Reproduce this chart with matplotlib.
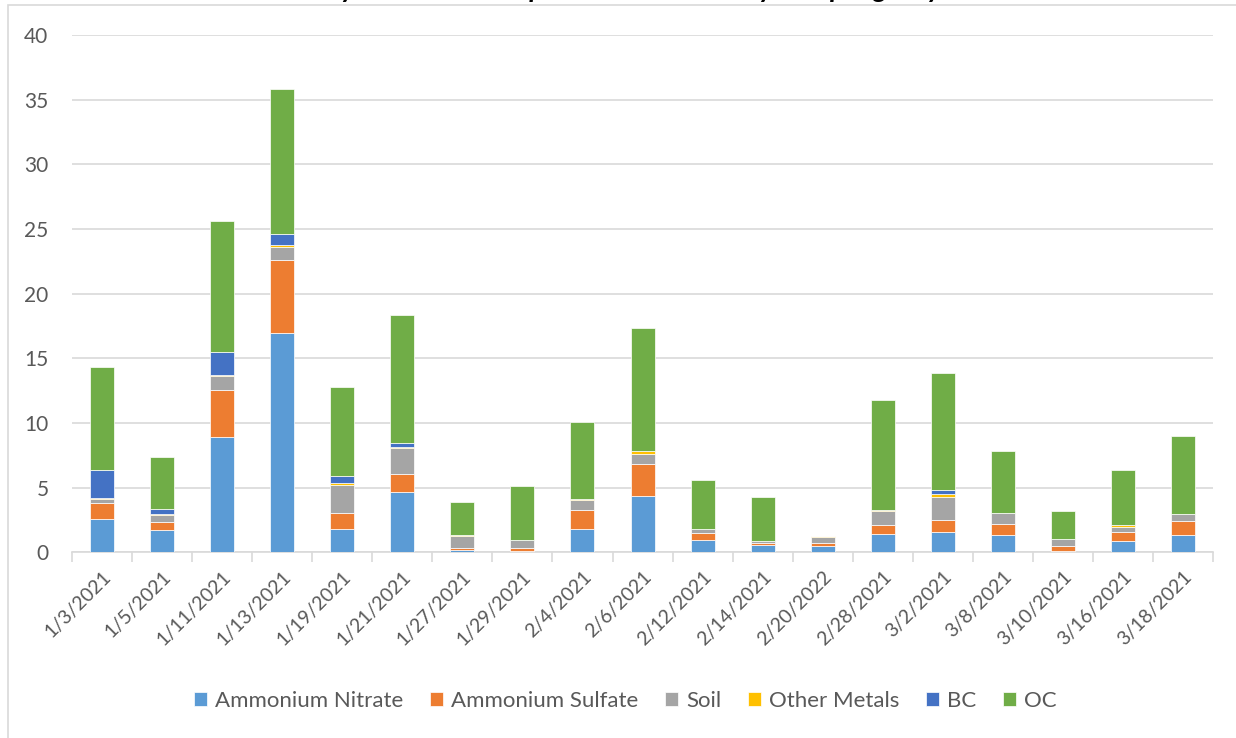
import numpy as np
import matplotlib
matplotlib.use("Agg")
import matplotlib.pyplot as plt
from matplotlib.patches import Rectangle

plt.rcParams['font.family'] = ['Lato', 'DejaVu Sans']

dates = ["1/3/2021", "1/5/2021", "1/11/2021", "1/13/2021", "1/19/2021", "1/21/2021",
         "1/27/2021", "1/29/2021", "2/4/2021", "2/6/2021", "2/12/2021", "2/14/2021",
         "2/20/2022", "2/28/2021", "3/2/2021", "3/8/2021", "3/10/2021", "3/16/2021",
         "3/18/2021"]

# values (ug/m3)
amm_nitrate = [2.55, 1.75, 8.92, 16.93, 1.78, 4.69, 0.18, 0.10, 1.83, 4.38,
               0.93, 0.57, 0.46, 1.44, 1.60, 1.34, 0.10, 0.85, 1.37]
amm_sulfate = [1.24, 0.60, 3.66, 5.70, 1.26, 1.34, 0.16, 0.24, 1.42, 2.48,
               0.56, 0.15, 0.24, 0.67, 0.90, 0.82, 0.42, 0.75, 1.05]
soil = [0.36, 0.54, 1.02, 1.00, 2.19, 2.01, 0.90, 0.59, 0.82, 0.77,
        0.29, 0.13, 0.49, 1.11, 1.78, 0.88, 0.51, 0.38, 0.52]
other_metals = [0.05, 0.07, 0.09, 0.11, 0.13, 0.10, 0.07, 0.02, 0.05, 0.18,
                0.02, 0.02, 0.05, 0.02, 0.20, 0.02, 0.02, 0.13, 0.02]
bc = [2.20, 0.42, 1.77, 0.90, 0.57, 0.29, 0.0, 0.0, 0.0, 0.0,
      0.0, 0.0, 0.0, 0.0, 0.31, 0.0, 0.0, 0.0, 0.0]
oc = [7.93, 3.99, 10.18, 11.16, 6.85, 9.92, 2.56, 4.20, 5.98, 9.54,
      3.76, 3.40, 0.02, 8.51, 9.05, 4.77, 2.14, 4.26, 6.06]

series = [("Ammonium Nitrate", amm_nitrate, "#5B9BD5"),
          ("Ammonium Sulfate", amm_sulfate, "#ED7D31"),
          ("Soil", soil, "#A5A5A5"),
          ("Other Metals", other_metals, "#FFC000"),
          ("BC", bc, "#4472C4"),
          ("OC", oc, "#70AD47")]

fig = plt.figure(figsize=(12.36, 7.38), dpi=100)
ax = fig.add_axes([0.0583, 0.2516, 0.9231, 0.701])

x = np.arange(len(dates))
bottom = np.zeros(len(dates))
for name, vals, col in series:
    vals = np.array(vals)
    ax.bar(x, vals, 0.4, bottom=bottom, color=col, label=name,
           edgecolor="white", linewidth=0.5, zorder=3)
    bottom += vals

ax.set_xlim(-0.5, len(dates) - 0.5)
ax.set_ylim(0, 40)
ax.set_yticks(np.arange(0, 41, 5))
ax.grid(axis="y", color="#D9D9D9", linewidth=1.2, zorder=0)
for s in ["top", "right", "left"]:
    ax.spines[s].set_visible(False)
ax.spines["bottom"].set_color("#D9D9D9")
ax.spines["bottom"].set_linewidth(1.2)

ax.set_xticks(x)
ax.set_xticklabels(dates, rotation=45, ha="right", rotation_mode="anchor")
ax.set_xticks(np.arange(-0.5, len(dates)), minor=True)
ax.tick_params(axis="x", which="major", length=0, pad=11, labelsize=14, labelcolor="#595959")
ax.tick_params(axis="x", which="minor", length=7, width=1.2, color="#D9D9D9")
ax.tick_params(axis="y", length=0, pad=17, labelsize=15, labelcolor="#595959")

fig.legend(loc="center", bbox_to_anchor=(0.506, 0.05), ncol=6, frameon=False,
           fontsize=16, handlelength=0.6, handleheight=0.6, handletextpad=0.35,
           columnspacing=1.2, labelcolor="#595959")

# outer chart border
fig.patches.append(Rectangle((8 / 1236, -0.01), 1.0, 1.0 - 5 / 738 + 0.01,
                             transform=fig.transFigure, fill=False,
                             edgecolor="#D9D9D9", linewidth=1.2))

# title is cut off at the top edge in the source
fig.text(0.5, 1.0 + 3 / 738, "Daily Chemical Composition of PM2.5 by Sampling Day",
         ha="center", va="baseline", fontsize=20, fontweight="bold", style="italic")

fig.savefig("out.png", dpi=100)
